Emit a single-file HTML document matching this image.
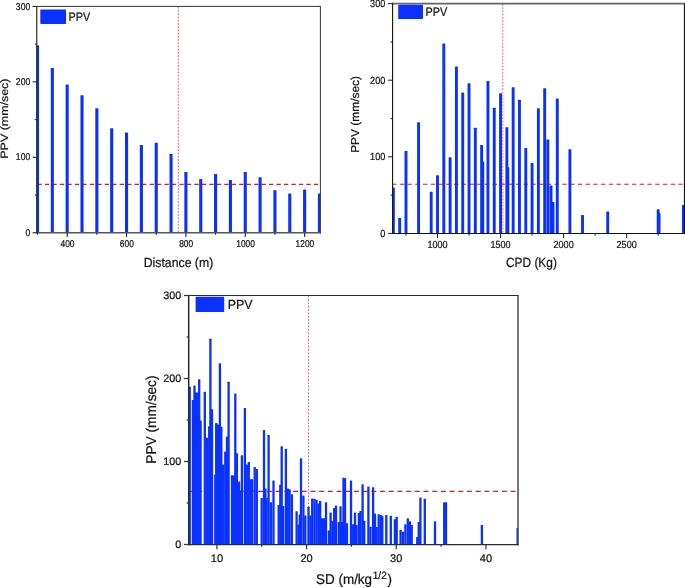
<!DOCTYPE html>
<html><head><meta charset="utf-8"><title>PPV charts</title>
<style>
html,body{margin:0;padding:0;background:#fff;}
body{width:685px;height:588px;position:relative;overflow:hidden;font-family:"Liberation Sans",sans-serif;}
</style></head><body>
<svg width="685" height="588" viewBox="0 0 685 588" style="position:absolute;left:0;top:0">
<defs>
<clipPath id="cp1"><rect x="36.75" y="6.4" width="283.65" height="226.35"/></clipPath>
<clipPath id="cp2"><rect x="392.6" y="3.65" width="292.8" height="229.75"/></clipPath>
<clipPath id="cp3"><rect x="188.7" y="295.5" width="329.3" height="249"/></clipPath>
</defs>
<line x1="36.75" y1="184.4" x2="320.4" y2="184.4" stroke="#f2141f" stroke-width="1.12" stroke-dasharray="4.35 3.12" stroke-dashoffset="-0.7"/>
<line x1="178.3" y1="6.7" x2="178.3" y2="232.75" stroke="#f2141f" stroke-width="0.8" stroke-dasharray="1.9 1.34" opacity="0.85"/>
<g clip-path="url(#cp1)" fill="#0a31fe">
<rect x="35.95" y="45.33" width="3.1" height="187.42" rx="0.45"/>
<rect x="50.79" y="67.97" width="3.1" height="164.78" rx="0.45"/>
<rect x="65.63" y="84.57" width="3.1" height="148.18" rx="0.45"/>
<rect x="80.47" y="95.13" width="3.1" height="137.62" rx="0.45"/>
<rect x="95.31" y="108.33" width="3.1" height="124.42" rx="0.45"/>
<rect x="110.15" y="128.33" width="3.1" height="104.42" rx="0.45"/>
<rect x="124.99" y="132.48" width="3.1" height="100.27" rx="0.45"/>
<rect x="139.83" y="144.93" width="3.1" height="87.82" rx="0.45"/>
<rect x="154.67" y="142.66" width="3.1" height="90.09" rx="0.45"/>
<rect x="169.51" y="153.98" width="3.1" height="78.77" rx="0.45"/>
<rect x="184.35" y="172.09" width="3.1" height="60.66" rx="0.45"/>
<rect x="199.19" y="178.88" width="3.1" height="53.87" rx="0.45"/>
<rect x="214.03" y="173.97" width="3.1" height="58.78" rx="0.45"/>
<rect x="228.87" y="180.01" width="3.1" height="52.74" rx="0.45"/>
<rect x="243.71" y="172.09" width="3.1" height="60.66" rx="0.45"/>
<rect x="258.55" y="177.37" width="3.1" height="55.38" rx="0.45"/>
<rect x="273.39" y="190.27" width="3.1" height="42.48" rx="0.45"/>
<rect x="288.23" y="193.52" width="3.1" height="39.23" rx="0.45"/>
<rect x="303.07" y="189.59" width="3.1" height="43.16" rx="0.45"/>
<rect x="317.91" y="193.52" width="3.1" height="39.23" rx="0.45"/>
</g>
<line x1="36.75" y1="6.4" x2="320.9" y2="6.4" stroke="#333" stroke-width="1.0"/>
<line x1="320.4" y1="6.4" x2="320.4" y2="233.5" stroke="#383838" stroke-width="1.0"/>
<line x1="36.17" y1="232.75" x2="320.9" y2="232.75" stroke="#555" stroke-width="1.5"/>
<line x1="36.75" y1="5.9" x2="36.75" y2="233.5" stroke="#222" stroke-width="1.15"/>
<line x1="32.55" y1="232.75" x2="36.75" y2="232.75" stroke="#262626" stroke-width="1.1"/>
<line x1="32.55" y1="157.3" x2="36.75" y2="157.3" stroke="#262626" stroke-width="1.1"/>
<line x1="32.55" y1="81.85" x2="36.75" y2="81.85" stroke="#262626" stroke-width="1.1"/>
<line x1="32.55" y1="6.4" x2="36.75" y2="6.4" stroke="#262626" stroke-width="1.1"/>
<line x1="34.85" y1="195.03" x2="36.75" y2="195.03" stroke="#262626" stroke-width="1.1"/>
<line x1="34.85" y1="119.58" x2="36.75" y2="119.58" stroke="#262626" stroke-width="1.1"/>
<line x1="34.85" y1="44.12" x2="36.75" y2="44.12" stroke="#262626" stroke-width="1.1"/>
<line x1="67.18" y1="232.75" x2="67.18" y2="236.95" stroke="#262626" stroke-width="1.1"/>
<line x1="126.54" y1="232.75" x2="126.54" y2="236.95" stroke="#262626" stroke-width="1.1"/>
<line x1="185.9" y1="232.75" x2="185.9" y2="236.95" stroke="#262626" stroke-width="1.1"/>
<line x1="245.26" y1="232.75" x2="245.26" y2="236.95" stroke="#262626" stroke-width="1.1"/>
<line x1="304.62" y1="232.75" x2="304.62" y2="236.95" stroke="#262626" stroke-width="1.1"/>
<line x1="37.5" y1="232.75" x2="37.5" y2="234.65" stroke="#262626" stroke-width="1.1"/>
<line x1="96.86" y1="232.75" x2="96.86" y2="234.65" stroke="#262626" stroke-width="1.1"/>
<line x1="156.22" y1="232.75" x2="156.22" y2="234.65" stroke="#262626" stroke-width="1.1"/>
<line x1="215.58" y1="232.75" x2="215.58" y2="234.65" stroke="#262626" stroke-width="1.1"/>
<line x1="274.94" y1="232.75" x2="274.94" y2="234.65" stroke="#262626" stroke-width="1.1"/>
<line x1="392.6" y1="184.3" x2="684.4" y2="184.3" stroke="#f2141f" stroke-width="1.12" stroke-dasharray="4.35 3.39" stroke-dashoffset="0.54"/>
<line x1="502.8" y1="3.95" x2="502.8" y2="233.4" stroke="#f2141f" stroke-width="0.8" stroke-dasharray="1.9 1.34" opacity="0.85"/>
<g clip-path="url(#cp2)" fill="#0a31fe">
<rect x="391.92" y="187.45" width="2.9" height="45.95" rx="0.45"/>
<rect x="398.22" y="218.08" width="2.9" height="15.32" rx="0.45"/>
<rect x="404.53" y="151.07" width="2.9" height="82.33" rx="0.45"/>
<rect x="417.13" y="122.35" width="2.9" height="111.05" rx="0.45"/>
<rect x="429.75" y="191.66" width="2.9" height="41.74" rx="0.45"/>
<rect x="436.05" y="175.2" width="2.9" height="58.2" rx="0.45"/>
<rect x="442.36" y="43.47" width="2.9" height="189.93" rx="0.45"/>
<rect x="448.66" y="157.2" width="2.9" height="76.2" rx="0.45"/>
<rect x="454.97" y="66.45" width="2.9" height="166.95" rx="0.45"/>
<rect x="461.27" y="92.49" width="2.9" height="140.91" rx="0.45"/>
<rect x="467.57" y="83.3" width="2.9" height="150.1" rx="0.45"/>
<rect x="473.88" y="127.72" width="2.9" height="105.69" rx="0.45"/>
<rect x="480.19" y="144.95" width="2.9" height="88.45" rx="0.45"/>
<rect x="481.32" y="161.41" width="2.9" height="71.99" rx="0.45"/>
<rect x="486.49" y="81" width="2.9" height="152.4" rx="0.45"/>
<rect x="492.8" y="107.8" width="2.9" height="125.6" rx="0.45"/>
<rect x="499.1" y="93.25" width="2.9" height="140.15" rx="0.45"/>
<rect x="505.41" y="127.33" width="2.9" height="106.07" rx="0.45"/>
<rect x="506.41" y="167.16" width="2.9" height="66.24" rx="0.45"/>
<rect x="511.71" y="87.13" width="2.9" height="146.27" rx="0.45"/>
<rect x="518.01" y="99.76" width="2.9" height="133.64" rx="0.45"/>
<rect x="524.32" y="148.01" width="2.9" height="85.39" rx="0.45"/>
<rect x="530.62" y="162.94" width="2.9" height="70.46" rx="0.45"/>
<rect x="536.93" y="108.19" width="2.9" height="125.21" rx="0.45"/>
<rect x="543.23" y="88.27" width="2.9" height="145.13" rx="0.45"/>
<rect x="546.39" y="139.59" width="2.9" height="93.81" rx="0.45"/>
<rect x="549.54" y="185.54" width="2.9" height="47.86" rx="0.45"/>
<rect x="551.56" y="202" width="2.9" height="31.4" rx="0.45"/>
<rect x="555.84" y="98.61" width="2.9" height="134.79" rx="0.45"/>
<rect x="568.45" y="149.16" width="2.9" height="84.24" rx="0.45"/>
<rect x="581.06" y="215.02" width="2.9" height="18.38" rx="0.45"/>
<rect x="606.28" y="211.57" width="2.9" height="21.83" rx="0.45"/>
<rect x="656.72" y="209.28" width="2.9" height="24.12" rx="0.45"/>
<rect x="657.61" y="213.11" width="2.9" height="20.29" rx="0.45"/>
<rect x="681.94" y="205.06" width="2.9" height="28.34" rx="0.45"/>
</g>
<line x1="392.6" y1="3.65" x2="685.1" y2="3.65" stroke="#666" stroke-width="1.8"/>
<line x1="684.5" y1="3.65" x2="684.5" y2="234" stroke="#111" stroke-width="1.2"/>
<line x1="392.05" y1="233.45" x2="685.1" y2="233.45" stroke="#111" stroke-width="1.1"/>
<line x1="392.6" y1="2.75" x2="392.6" y2="234" stroke="#111" stroke-width="1.1"/>
<line x1="388.1" y1="233.4" x2="392.6" y2="233.4" stroke="#2a2a2a" stroke-width="1.1"/>
<line x1="388.1" y1="156.82" x2="392.6" y2="156.82" stroke="#2a2a2a" stroke-width="1.1"/>
<line x1="388.1" y1="80.23" x2="392.6" y2="80.23" stroke="#2a2a2a" stroke-width="1.1"/>
<line x1="388.1" y1="3.65" x2="392.6" y2="3.65" stroke="#2a2a2a" stroke-width="1.1"/>
<line x1="390.55" y1="195.11" x2="392.6" y2="195.11" stroke="#2a2a2a" stroke-width="1.1"/>
<line x1="390.55" y1="118.53" x2="392.6" y2="118.53" stroke="#2a2a2a" stroke-width="1.1"/>
<line x1="390.55" y1="41.94" x2="392.6" y2="41.94" stroke="#2a2a2a" stroke-width="1.1"/>
<line x1="437.5" y1="233.45" x2="437.5" y2="237.95" stroke="#2a2a2a" stroke-width="1.1"/>
<line x1="500.55" y1="233.45" x2="500.55" y2="237.95" stroke="#2a2a2a" stroke-width="1.1"/>
<line x1="563.6" y1="233.45" x2="563.6" y2="237.95" stroke="#2a2a2a" stroke-width="1.1"/>
<line x1="626.65" y1="233.45" x2="626.65" y2="237.95" stroke="#2a2a2a" stroke-width="1.1"/>
<line x1="405.98" y1="233.45" x2="405.98" y2="235.5" stroke="#2a2a2a" stroke-width="1.1"/>
<line x1="469.02" y1="233.45" x2="469.02" y2="235.5" stroke="#2a2a2a" stroke-width="1.1"/>
<line x1="532.08" y1="233.45" x2="532.08" y2="235.5" stroke="#2a2a2a" stroke-width="1.1"/>
<line x1="595.12" y1="233.45" x2="595.12" y2="235.5" stroke="#2a2a2a" stroke-width="1.1"/>
<line x1="658.17" y1="233.45" x2="658.17" y2="235.5" stroke="#2a2a2a" stroke-width="1.1"/>
<line x1="188.7" y1="491.3" x2="518" y2="491.3" stroke="#f2141f" stroke-width="1.3" stroke-dasharray="4.95 3.75" stroke-dashoffset="0.07"/>
<line x1="308.5" y1="295.8" x2="308.5" y2="544.5" stroke="#f2141f" stroke-width="0.8" stroke-dasharray="1.75 1.58" opacity="0.85"/>
<g clip-path="url(#cp3)" fill="#0a31fe">
<rect x="188.55" y="386.8" width="2.3" height="157.7" rx="0.5"/>
<rect x="191.75" y="400.08" width="2.3" height="144.42" rx="0.5"/>
<rect x="193.35" y="385.56" width="2.3" height="158.94" rx="0.5"/>
<rect x="194.75" y="392.61" width="2.3" height="151.89" rx="0.5"/>
<rect x="196.15" y="392.61" width="2.3" height="151.89" rx="0.5"/>
<rect x="198.05" y="379.33" width="2.3" height="165.17" rx="0.5"/>
<rect x="199.45" y="420.42" width="2.3" height="124.08" rx="0.5"/>
<rect x="203.65" y="391.78" width="2.3" height="152.72" rx="0.5"/>
<rect x="205.75" y="437.85" width="2.3" height="106.65" rx="0.5"/>
<rect x="208.05" y="426.23" width="2.3" height="118.27" rx="0.5"/>
<rect x="209.25" y="338.66" width="2.3" height="205.84" rx="0.5"/>
<rect x="210.85" y="409.21" width="2.3" height="135.29" rx="0.5"/>
<rect x="214.15" y="474.78" width="2.3" height="69.72" rx="0.5"/>
<rect x="215.05" y="422.9" width="2.3" height="121.6" rx="0.5"/>
<rect x="216.75" y="424.56" width="2.3" height="119.94" rx="0.5"/>
<rect x="218.75" y="363.14" width="2.3" height="181.36" rx="0.5"/>
<rect x="220.15" y="426.64" width="2.3" height="117.86" rx="0.5"/>
<rect x="222.05" y="464.4" width="2.3" height="80.1" rx="0.5"/>
<rect x="224.15" y="451.54" width="2.3" height="92.96" rx="0.5"/>
<rect x="225.85" y="436.6" width="2.3" height="107.9" rx="0.5"/>
<rect x="227.45" y="381.82" width="2.3" height="162.68" rx="0.5"/>
<rect x="230.85" y="475.19" width="2.3" height="69.31" rx="0.5"/>
<rect x="232.75" y="475.61" width="2.3" height="68.89" rx="0.5"/>
<rect x="234.15" y="393.44" width="2.3" height="151.06" rx="0.5"/>
<rect x="235.75" y="453.2" width="2.3" height="91.3" rx="0.5"/>
<rect x="237.85" y="481.42" width="2.3" height="63.08" rx="0.5"/>
<rect x="239.55" y="490.55" width="2.3" height="53.95" rx="0.5"/>
<rect x="240.75" y="455.27" width="2.3" height="89.23" rx="0.5"/>
<rect x="243.75" y="407.97" width="2.3" height="136.53" rx="0.5"/>
<rect x="245.65" y="464.4" width="2.3" height="80.1" rx="0.5"/>
<rect x="247.65" y="461.92" width="2.3" height="82.58" rx="0.5"/>
<rect x="249.85" y="479.35" width="2.3" height="65.15" rx="0.5"/>
<rect x="250.85" y="479.35" width="2.3" height="65.15" rx="0.5"/>
<rect x="253.55" y="466.89" width="2.3" height="77.61" rx="0.5"/>
<rect x="255.65" y="468.97" width="2.3" height="75.53" rx="0.5"/>
<rect x="260.55" y="498.02" width="2.3" height="46.48" rx="0.5"/>
<rect x="262.85" y="429.96" width="2.3" height="114.54" rx="0.5"/>
<rect x="264.25" y="488.48" width="2.3" height="56.02" rx="0.5"/>
<rect x="265.45" y="498.02" width="2.3" height="46.48" rx="0.5"/>
<rect x="267.45" y="434.94" width="2.3" height="109.56" rx="0.5"/>
<rect x="269.85" y="502.17" width="2.3" height="42.33" rx="0.5"/>
<rect x="272.35" y="480.59" width="2.3" height="63.91" rx="0.5"/>
<rect x="277.55" y="505.07" width="2.3" height="39.43" rx="0.5"/>
<rect x="279.15" y="484.74" width="2.3" height="59.76" rx="0.5"/>
<rect x="280.55" y="446.14" width="2.3" height="98.36" rx="0.5"/>
<rect x="282.05" y="505.9" width="2.3" height="38.6" rx="0.5"/>
<rect x="284.75" y="448.63" width="2.3" height="95.87" rx="0.5"/>
<rect x="286.65" y="488.48" width="2.3" height="56.02" rx="0.5"/>
<rect x="288.45" y="489.31" width="2.3" height="55.19" rx="0.5"/>
<rect x="290.75" y="494.29" width="2.3" height="50.21" rx="0.5"/>
<rect x="295.45" y="511.3" width="2.3" height="33.2" rx="0.5"/>
<rect x="297.45" y="524.58" width="2.3" height="19.92" rx="0.5"/>
<rect x="298.65" y="514.62" width="2.3" height="29.88" rx="0.5"/>
<rect x="299.85" y="458.18" width="2.3" height="86.32" rx="0.5"/>
<rect x="302.25" y="495.53" width="2.3" height="48.97" rx="0.5"/>
<rect x="304.15" y="515.45" width="2.3" height="29.05" rx="0.5"/>
<rect x="307.35" y="506.74" width="2.3" height="37.76" rx="0.5"/>
<rect x="309.25" y="515.45" width="2.3" height="29.05" rx="0.5"/>
<rect x="311.05" y="498.44" width="2.3" height="46.06" rx="0.5"/>
<rect x="313.25" y="498.85" width="2.3" height="45.65" rx="0.5"/>
<rect x="315.35" y="499.68" width="2.3" height="44.82" rx="0.5"/>
<rect x="317.35" y="503.42" width="2.3" height="41.08" rx="0.5"/>
<rect x="319.05" y="500.93" width="2.3" height="43.57" rx="0.5"/>
<rect x="321.05" y="518.36" width="2.3" height="26.14" rx="0.5"/>
<rect x="322.85" y="518.36" width="2.3" height="26.14" rx="0.5"/>
<rect x="324.85" y="502.17" width="2.3" height="42.33" rx="0.5"/>
<rect x="327.75" y="530.39" width="2.3" height="14.11" rx="0.5"/>
<rect x="329.45" y="512.54" width="2.3" height="31.96" rx="0.5"/>
<rect x="331.35" y="520.85" width="2.3" height="23.65" rx="0.5"/>
<rect x="333.05" y="507.98" width="2.3" height="36.52" rx="0.5"/>
<rect x="334.85" y="505.49" width="2.3" height="39.01" rx="0.5"/>
<rect x="337.65" y="522.09" width="2.3" height="22.41" rx="0.5"/>
<rect x="339.35" y="506.32" width="2.3" height="38.18" rx="0.5"/>
<rect x="340.85" y="522.09" width="2.3" height="22.41" rx="0.5"/>
<rect x="342.35" y="477.69" width="2.3" height="66.81" rx="0.5"/>
<rect x="343.85" y="478.1" width="2.3" height="66.4" rx="0.5"/>
<rect x="345.85" y="523.34" width="2.3" height="21.16" rx="0.5"/>
<rect x="349.85" y="480.59" width="2.3" height="63.91" rx="0.5"/>
<rect x="352.05" y="524.16" width="2.3" height="20.34" rx="0.5"/>
<rect x="353.85" y="512.54" width="2.3" height="31.96" rx="0.5"/>
<rect x="355.35" y="525" width="2.3" height="19.5" rx="0.5"/>
<rect x="357.75" y="512.96" width="2.3" height="31.54" rx="0.5"/>
<rect x="359.35" y="510.88" width="2.3" height="33.62" rx="0.5"/>
<rect x="361.45" y="484.32" width="2.3" height="60.18" rx="0.5"/>
<rect x="363.05" y="520.85" width="2.3" height="23.65" rx="0.5"/>
<rect x="367.25" y="486.4" width="2.3" height="58.1" rx="0.5"/>
<rect x="369.35" y="526.65" width="2.3" height="17.85" rx="0.5"/>
<rect x="371.95" y="487.23" width="2.3" height="57.27" rx="0.5"/>
<rect x="373.85" y="513.38" width="2.3" height="31.12" rx="0.5"/>
<rect x="375.45" y="527.07" width="2.3" height="17.43" rx="0.5"/>
<rect x="377.55" y="514.21" width="2.3" height="30.29" rx="0.5"/>
<rect x="379.85" y="515.03" width="2.3" height="29.47" rx="0.5"/>
<rect x="381.15" y="516.28" width="2.3" height="28.22" rx="0.5"/>
<rect x="385.15" y="515.03" width="2.3" height="29.47" rx="0.5"/>
<rect x="389.65" y="515.87" width="2.3" height="28.63" rx="0.5"/>
<rect x="393.75" y="519.18" width="2.3" height="25.32" rx="0.5"/>
<rect x="395.55" y="516.7" width="2.3" height="27.8" rx="0.5"/>
<rect x="399.45" y="529.98" width="2.3" height="14.52" rx="0.5"/>
<rect x="401.75" y="531.63" width="2.3" height="12.87" rx="0.5"/>
<rect x="404.25" y="524.16" width="2.3" height="20.34" rx="0.5"/>
<rect x="406.65" y="518.36" width="2.3" height="26.14" rx="0.5"/>
<rect x="408.75" y="521.26" width="2.3" height="23.24" rx="0.5"/>
<rect x="410.55" y="525" width="2.3" height="19.5" rx="0.5"/>
<rect x="416.15" y="537.03" width="2.3" height="7.47" rx="0.5"/>
<rect x="417.55" y="522.09" width="2.3" height="22.41" rx="0.5"/>
<rect x="419.25" y="497.61" width="2.3" height="46.89" rx="0.5"/>
<rect x="423.65" y="498.85" width="2.3" height="45.65" rx="0.5"/>
<rect x="433.85" y="521.26" width="2.3" height="23.24" rx="0.5"/>
<rect x="443.05" y="502.17" width="2.3" height="42.33" rx="0.5"/>
<rect x="444.85" y="502.17" width="2.3" height="42.33" rx="0.5"/>
<rect x="480.75" y="525" width="2.3" height="19.5" rx="0.5"/>
<rect x="516.45" y="527.9" width="2.3" height="16.6" rx="0.5"/>
</g>
<line x1="188.7" y1="295.5" x2="518.75" y2="295.5" stroke="#2a2a2a" stroke-width="1.2"/>
<line x1="518" y1="295.5" x2="518" y2="545.3" stroke="#4a4a4a" stroke-width="1.5"/>
<line x1="187.95" y1="544.6" x2="518.75" y2="544.6" stroke="#2a2a2a" stroke-width="1.4"/>
<line x1="188.7" y1="294.9" x2="188.7" y2="545.3" stroke="#2a2a2a" stroke-width="1.5"/>
<line x1="184" y1="544.5" x2="188.7" y2="544.5" stroke="#3a3a3a" stroke-width="1.25"/>
<line x1="184" y1="461.5" x2="188.7" y2="461.5" stroke="#3a3a3a" stroke-width="1.25"/>
<line x1="184" y1="378.5" x2="188.7" y2="378.5" stroke="#3a3a3a" stroke-width="1.25"/>
<line x1="184" y1="295.5" x2="188.7" y2="295.5" stroke="#3a3a3a" stroke-width="1.25"/>
<line x1="186.55" y1="503" x2="188.7" y2="503" stroke="#3a3a3a" stroke-width="1.25"/>
<line x1="186.55" y1="420" x2="188.7" y2="420" stroke="#3a3a3a" stroke-width="1.25"/>
<line x1="186.55" y1="337" x2="188.7" y2="337" stroke="#3a3a3a" stroke-width="1.25"/>
<line x1="216.9" y1="544.6" x2="216.9" y2="549.3" stroke="#3a3a3a" stroke-width="1.25"/>
<line x1="306.57" y1="544.6" x2="306.57" y2="549.3" stroke="#3a3a3a" stroke-width="1.25"/>
<line x1="396.24" y1="544.6" x2="396.24" y2="549.3" stroke="#3a3a3a" stroke-width="1.25"/>
<line x1="485.91" y1="544.6" x2="485.91" y2="549.3" stroke="#3a3a3a" stroke-width="1.25"/>
<line x1="261.74" y1="544.6" x2="261.74" y2="546.75" stroke="#3a3a3a" stroke-width="1.25"/>
<line x1="351.4" y1="544.6" x2="351.4" y2="546.75" stroke="#3a3a3a" stroke-width="1.25"/>
<line x1="441.08" y1="544.6" x2="441.08" y2="546.75" stroke="#3a3a3a" stroke-width="1.25"/>
<rect x="40.3" y="9.6" width="25.7" height="14.3" fill="#0a31fe" rx="0.6"/>
<rect x="398.2" y="4.8" width="24.8" height="14.1" fill="#0a31fe" rx="0.6"/>
<rect x="195.6" y="296.8" width="28.6" height="15.2" fill="#0a31fe" rx="0.6"/>
<g font-family="Liberation Sans, sans-serif" fill="#111" stroke="#111" stroke-width="0.22" style="opacity:0.999;text-rendering:geometricPrecision">
<text transform="translate(30.2 235.85) scale(0.87 1.0)" font-size="9.9" text-anchor="end">0</text>
<text transform="translate(30.2 160.4) scale(0.87 1.0)" font-size="9.9" text-anchor="end">100</text>
<text transform="translate(30.2 84.95) scale(0.87 1.0)" font-size="9.9" text-anchor="end">200</text>
<text transform="translate(30.2 9.5) scale(0.87 1.0)" font-size="9.9" text-anchor="end">300</text>
<text transform="translate(67.48 247.2) scale(0.85 1.0)" font-size="9.9" text-anchor="middle">400</text>
<text transform="translate(126.84 247.2) scale(0.85 1.0)" font-size="9.9" text-anchor="middle">600</text>
<text transform="translate(186.2 247.2) scale(0.85 1.0)" font-size="9.9" text-anchor="middle">800</text>
<text transform="translate(245.56 247.2) scale(0.85 1.0)" font-size="9.9" text-anchor="middle">1000</text>
<text transform="translate(304.92 247.2) scale(0.85 1.0)" font-size="9.9" text-anchor="middle">1200</text>
<text transform="translate(178.5 266.6) scale(0.93 1.0)" font-size="13.2" text-anchor="middle">Distance (m)</text>
<text transform="translate(7.9 118.6) rotate(-90) scale(1.0 0.86)" font-size="12.45" text-anchor="middle">PPV (mm/sec)</text>
<text transform="translate(68.6 21) scale(0.885 1.0)" font-size="12.3" text-anchor="start">PPV</text>
<text transform="translate(385.3 236.9) scale(0.885 1.0)" font-size="10.3" text-anchor="end">0</text>
<text transform="translate(385.3 160.32) scale(0.885 1.0)" font-size="10.3" text-anchor="end">100</text>
<text transform="translate(385.3 83.73) scale(0.885 1.0)" font-size="10.3" text-anchor="end">200</text>
<text transform="translate(385.3 7.15) scale(0.885 1.0)" font-size="10.3" text-anchor="end">300</text>
<text transform="translate(437.5 248.2) scale(0.89 1.0)" font-size="10.2" text-anchor="middle">1000</text>
<text transform="translate(500.55 248.2) scale(0.89 1.0)" font-size="10.2" text-anchor="middle">1500</text>
<text transform="translate(563.6 248.2) scale(0.89 1.0)" font-size="10.2" text-anchor="middle">2000</text>
<text transform="translate(626.65 248.2) scale(0.89 1.0)" font-size="10.2" text-anchor="middle">2500</text>
<text transform="translate(531.4 266.6) scale(0.89 1.0)" font-size="13.4" text-anchor="middle">CPD (Kg)</text>
<text transform="translate(359.2 114.4) rotate(-90) scale(1.0 0.96)" font-size="11.95" text-anchor="middle">PPV (mm/sec)</text>
<text transform="translate(425.5 16) scale(0.885 1.0)" font-size="12.3" text-anchor="start">PPV</text>
<text transform="translate(181.2 548) scale(1.0 1.0)" font-size="10.8" text-anchor="end">0</text>
<text transform="translate(181.2 465) scale(1.0 1.0)" font-size="10.8" text-anchor="end">100</text>
<text transform="translate(181.2 382) scale(1.0 1.0)" font-size="10.8" text-anchor="end">200</text>
<text transform="translate(181.2 299) scale(1.0 1.0)" font-size="10.8" text-anchor="end">300</text>
<text transform="translate(216.9 561.5) scale(1.0 1.0)" font-size="11.0" text-anchor="middle">10</text>
<text transform="translate(306.57 561.5) scale(1.0 1.0)" font-size="11.0" text-anchor="middle">20</text>
<text transform="translate(396.24 561.5) scale(1.0 1.0)" font-size="11.0" text-anchor="middle">30</text>
<text transform="translate(485.91 561.5) scale(1.0 1.0)" font-size="11.0" text-anchor="middle">40</text>
<text transform="translate(316.0 584.1) scale(0.955 1)" font-size="14.1">SD (m/kg<tspan font-size="10.6" dy="-5.1" dx="0.7">1/2</tspan><tspan dy="5.1" dx="0.6">)</tspan></text>
<text transform="translate(156.4 419.6) rotate(-90) scale(0.965 1.0)" font-size="14.2" text-anchor="middle">PPV (mm/sec)</text>
<text transform="translate(227.8 309.4) scale(0.94 1.0)" font-size="13.2" text-anchor="start">PPV</text>
</g>
</svg>
</body></html>
